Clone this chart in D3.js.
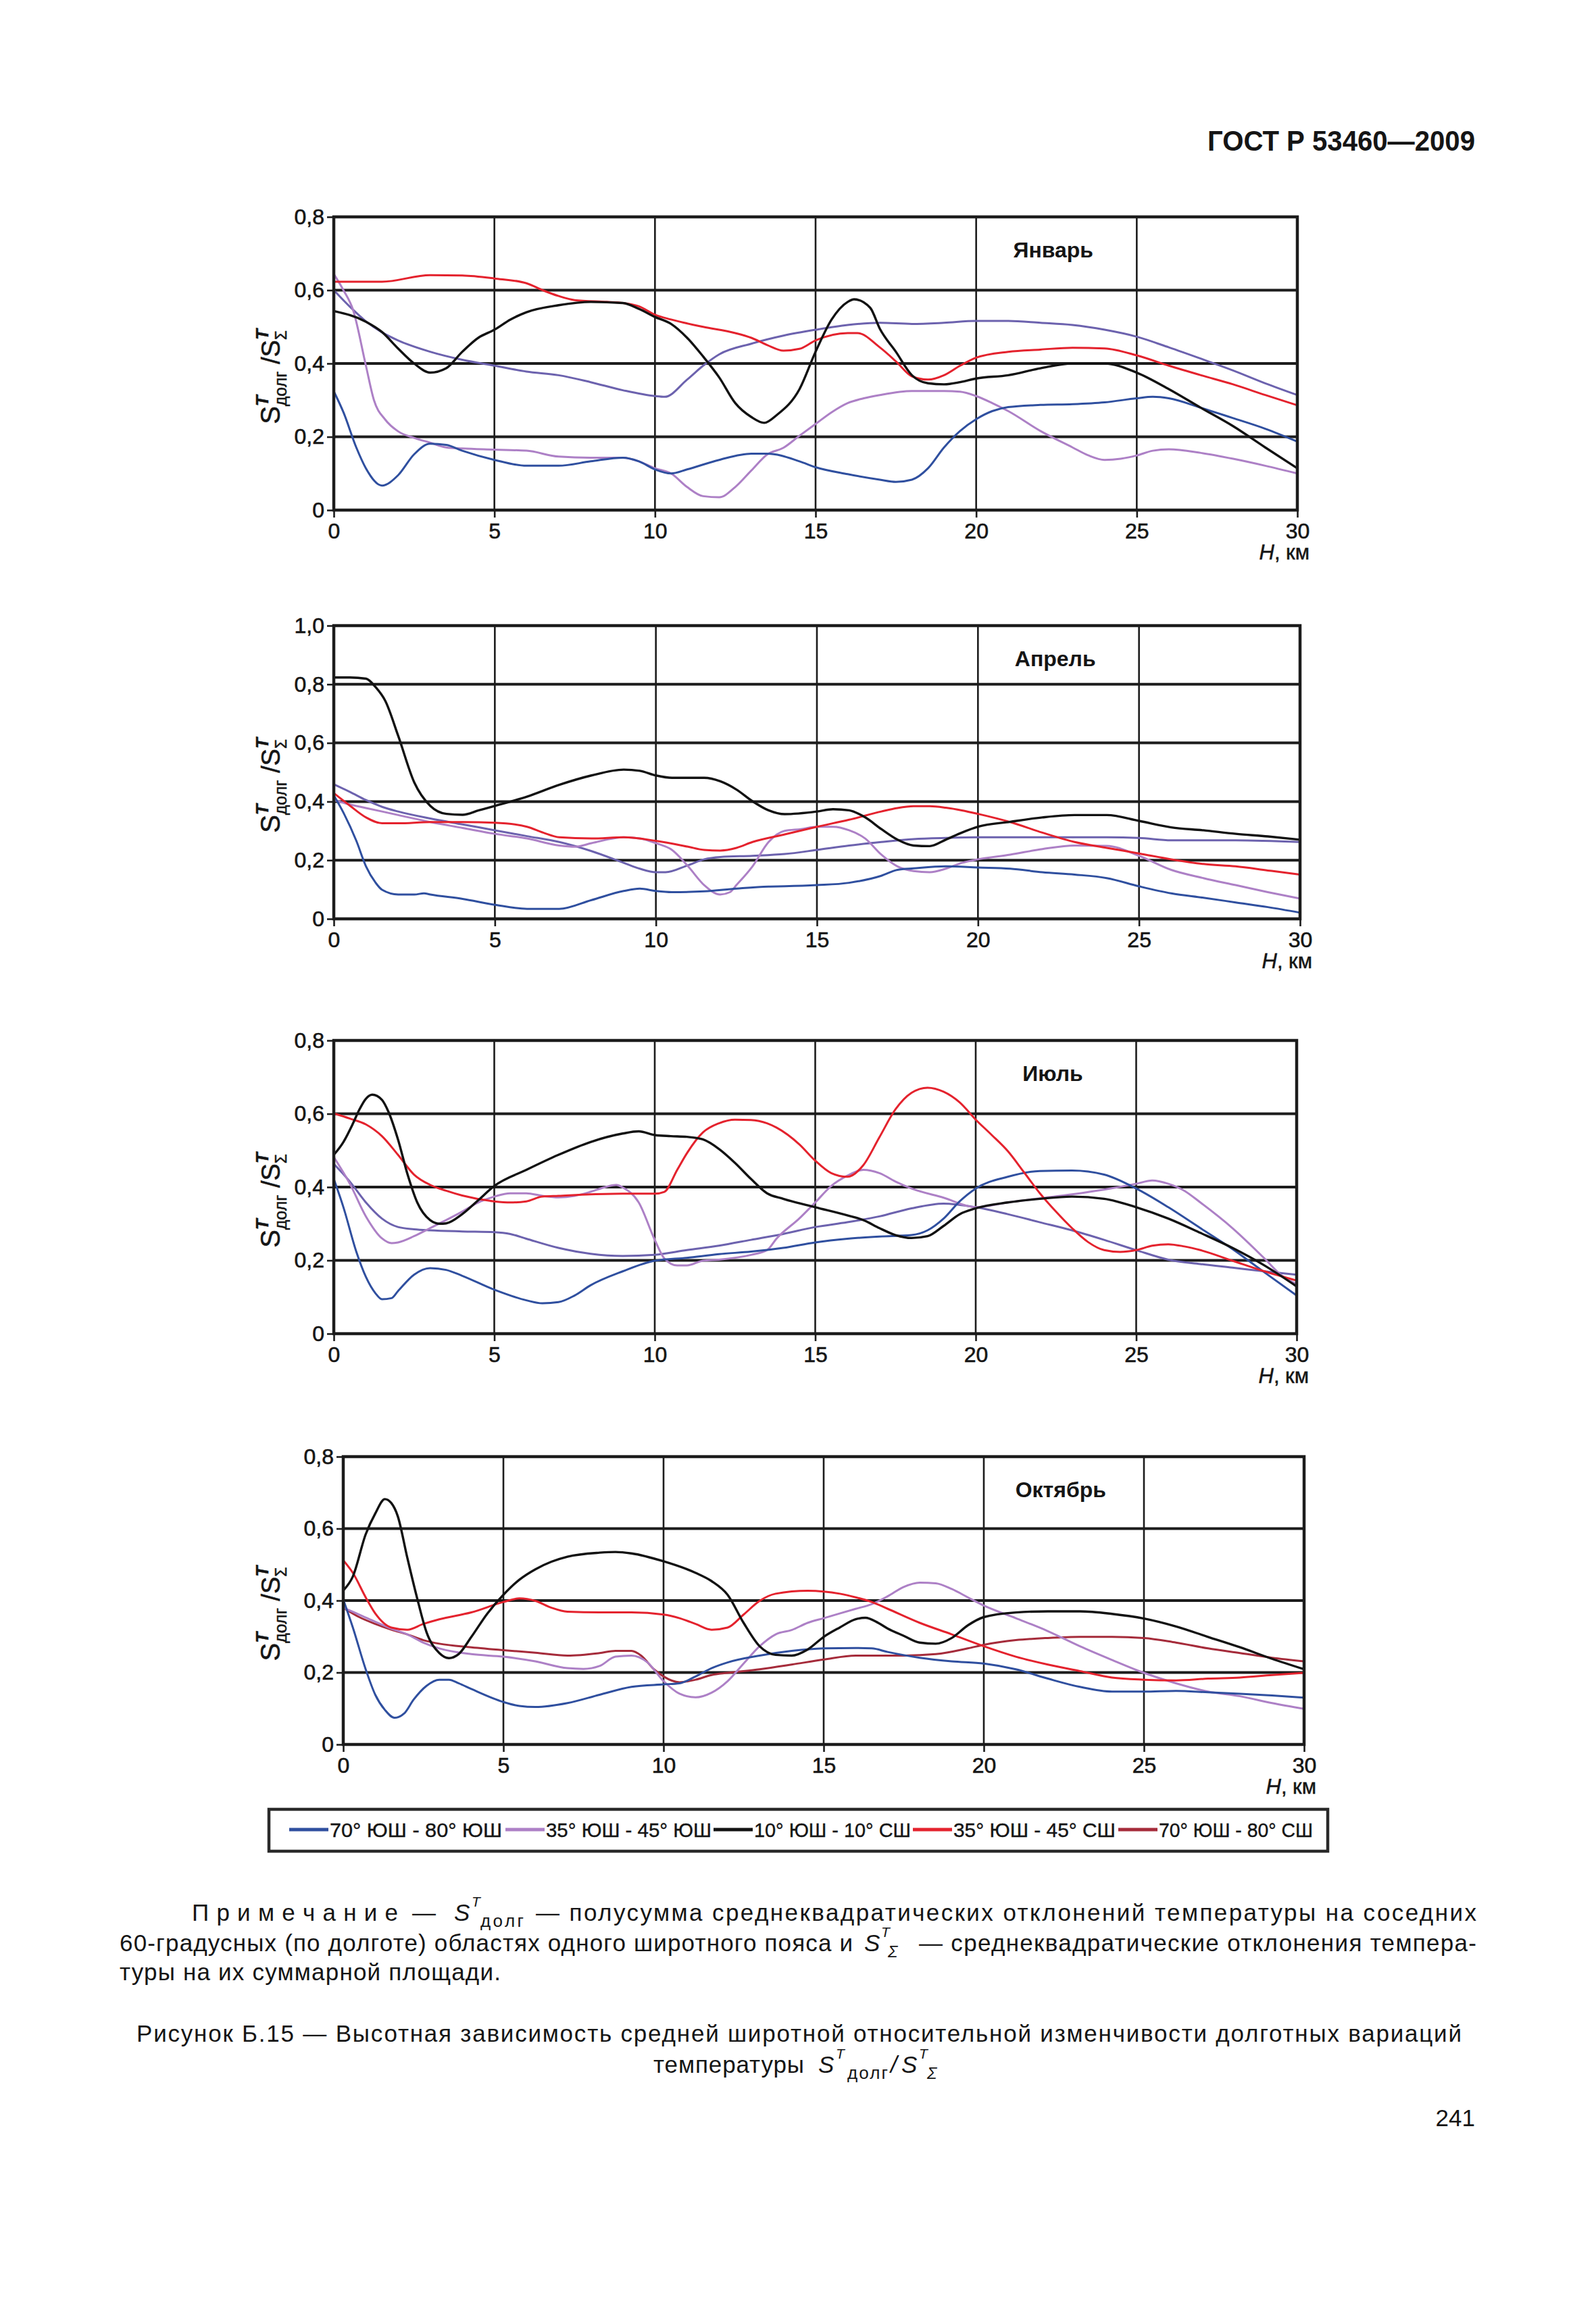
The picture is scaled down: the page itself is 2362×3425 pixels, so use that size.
<!DOCTYPE html>
<html><head><meta charset="utf-8">
<script src="https://cdn.jsdelivr.net/npm/d3@7"></script>
<style>body{margin:0;background:#fff}svg{display:block}text{font-family:"Liberation Sans",Arial,sans-serif;fill:#151515}</style>
</head><body><svg id="c" width="2362" height="3425"></svg>
<script>
// ---------------- DATA ----------------
const monthTitles = ["Январь", "Апрель", "Июль", "Октябрь"];
const seriesNames = ["70° ЮШ - 80° ЮШ", "35° ЮШ - 45° ЮШ", "10° ЮШ - 10° СШ", "35° ЮШ - 45° СШ", "70° ЮШ - 80° СШ"];
const xTicks = [0, 5, 10, 15, 20, 25, 30];
const yTicks08 = [0, 0.2, 0.4, 0.6, 0.8];
const yTicks10 = [0, 0.2, 0.4, 0.6, 0.8, 1.0];

// January  [H km, ratio]
const jan_s1 = [[0,.324],[.3,.267],[.7,.171],[1,.114],[1.5,.067],[2,.095],[2.5,.152],[3,.181],[3.5,.178],[4,.162],[5,.137],[6,.121],[7,.121],[8,.133],[9,.143],[9.5,.133],[10,.111],[10.5,.10],[11,.111],[12,.137],[13,.154],[13.5,.154],[14.5,.133],[15,.117],[16,.098],[17,.083],[17.5,.077],[18,.083],[18.5,.114],[19,.171],[19.5,.216],[20,.248],[20.5,.27],[21,.281],[22,.287],[23,.289],[24,.294],[25,.305],[25.5,.309],[26,.305],[27,.279],[28,.251],[29,.222],[30,.187]];
const jan_s2 = [[0,.644],[.3,.60],[.6,.546],[1,.394],[1.25,.30],[1.6,.247],[2,.215],[2.5,.197],[3,.184],[3.5,.171],[4,.168],[5,.165],[6,.162],[7,.146],[8,.143],[9,.143],[9.5,.133],[10,.114],[10.5,.10],[11,.063],[11.5,.038],[12,.035],[12.5,.063],[13,.108],[13.5,.152],[14,.170],[14.5,.203],[15,.235],[15.5,.267],[16,.292],[16.5,.305],[17,.314],[18,.325],[19,.325],[19.5,.323],[20,.311],[20.5,.292],[21,.27],[22,.216],[23,.171],[23.5,.149],[24,.137],[24.5,.14],[25,.149],[25.5,.162],[26,.166],[27,.156],[28,.14],[29,.121],[30,.10]];
const jan_s3 = [[0,.543],[1,.514],[1.5,.486],[2,.441],[2.5,.40],[3,.375],[3.5,.387],[4,.432],[4.5,.47],[5,.492],[5.5,.52],[6,.54],[7,.559],[8,.568],[9,.565],[9.5,.549],[10,.527],[10.5,.508],[11,.47],[11.5,.419],[12,.362],[12.5,.292],[13,.254],[13.4,.238],[13.8,.26],[14.5,.33],[15,.432],[15.5,.52],[16,.568],[16.2,.575],[16.7,.552],[17,.495],[17.5,.432],[18,.368],[18.5,.346],[19,.343],[19.5,.349],[20,.359],[21,.368],[22,.387],[23,.40],[24,.40],[25,.375],[26,.33],[27,.279],[28,.229],[29,.171],[30,.114]];
const jan_s4 = [[0,.623],[1.5,.623],[3,.641],[4,.64],[5,.632],[6,.619],[6.5,.60],[7,.584],[7.5,.573],[8.5,.568],[9,.565],[9.5,.556],[10,.533],[10.5,.52],[11.5,.50],[12.5,.483],[13,.47],[13.5,.45],[14,.435],[14.5,.44],[15,.463],[16,.483],[16.3,.483],[17,.444],[17.5,.406],[18,.365],[18.5,.356],[19,.368],[19.5,.394],[20,.416],[21,.432],[22,.438],[23,.443],[24,.441],[25,.422],[26,.394],[27,.368],[28,.343],[29,.314],[30,.286]];
const jan_s5 = [[0,.60],[.5,.555],[1,.515],[1.5,.485],[2,.463],[3,.432],[4,.41],[5,.394],[6,.378],[7,.368],[8,.349],[9,.327],[10,.311],[10.3,.309],[11,.356],[11.5,.394],[12,.425],[13,.454],[14,.476],[15,.492],[16,.505],[17,.511],[18,.508],[19,.511],[20,.516],[21,.516],[22,.511],[23,.505],[24,.492],[25,.473],[26,.444],[27,.413],[28,.381],[29,.346],[30,.314]];

// April
const apr_s1 = [[0,.421],[.3,.362],[.7,.266],[1,.179],[1.3,.123],[1.5,.099],[2,.083],[2.5,.083],[2.8,.087],[3,.083],[4,.068],[5,.048],[6,.034],[7,.034],[8,.064],[9,.095],[9.5,.103],[10,.095],[10.5,.091],[11.5,.094],[12.5,.103],[13.5,.11],[14,.111],[15,.115],[16,.123],[17,.147],[17.5,.167],[18,.172],[19,.179],[20,.175],[21,.171],[22,.159],[23,.151],[24,.139],[25,.111],[26,.087],[27,.072],[28,.056],[29,.04],[30,.021]];
const apr_s2 = [[0,.405],[.5,.39],[1,.378],[2,.354],[3,.33],[4,.31],[5,.29],[6,.274],[7,.25],[7.5,.246],[8,.258],[9,.278],[9.5,.274],[10,.258],[10.5,.235],[11,.179],[11.5,.115],[12,.083],[12.3,.091],[12.5,.115],[13,.179],[13.5,.262],[14,.30],[14.5,.306],[15,.314],[15.5,.314],[16,.302],[16.5,.274],[17,.219],[17.5,.179],[18,.163],[18.5,.159],[19,.171],[19.5,.191],[20,.203],[21,.219],[22,.238],[23,.25],[24,.249],[25,.215],[26,.167],[27,.139],[28,.115],[29,.091],[30,.069]];
const apr_s3 = [[0,.823],[.5,.823],[1,.819],[1.3,.79],[1.6,.743],[2,.624],[2.5,.465],[3,.385],[3.5,.358],[4,.355],[4.5,.37],[5,.385],[6,.417],[7,.457],[8,.489],[9,.509],[9.5,.505],[10,.489],[10.5,.481],[11.5,.481],[12,.469],[12.5,.441],[13,.401],[13.5,.37],[14,.357],[15,.366],[15.5,.374],[16,.37],[16.5,.346],[17,.306],[17.5,.27],[18,.25],[18.5,.248],[19,.27],[19.5,.294],[20,.314],[21,.331],[22,.346],[23,.354],[24,.354],[25,.334],[26,.312],[27,.302],[28,.29],[29,.281],[30,.27]];
const apr_s4 = [[0,.429],[.5,.386],[1,.346],[1.5,.326],[2,.326],[3,.33],[4,.33],[5,.328],[6,.314],[6.5,.294],[7,.278],[8,.274],[9,.278],[10,.266],[11,.246],[11.5,.235],[12,.233],[12.5,.242],[13,.262],[14,.288],[15,.314],[16,.338],[17,.366],[17.5,.378],[18,.384],[18.5,.384],[19,.379],[19.5,.37],[20,.358],[21,.33],[22,.294],[23,.262],[24,.242],[25,.223],[26,.203],[27,.187],[28,.179],[29,.165],[30,.151]];
const apr_s5 = [[0,.459],[.5,.433],[1,.405],[1.5,.382],[2,.366],[3,.342],[4,.322],[5,.302],[6,.282],[7,.262],[8,.231],[9,.191],[9.5,.171],[10,.159],[10.3,.159],[11,.183],[11.5,.203],[12,.211],[13,.215],[14,.221],[15,.235],[16,.25],[17,.262],[18,.272],[19,.276],[20,.278],[22,.278],[24,.278],[25,.276],[26,.268],[28,.268],[30,.262]];

// July
const jul_s1 = [[0,.422],[.3,.345],[.7,.224],[1,.155],[1.3,.11],[1.5,.094],[1.8,.097],[2,.116],[2.5,.161],[3,.179],[3.5,.174],[4,.158],[5,.12],[6,.091],[6.5,.083],[7,.086],[7.5,.104],[8,.132],[9,.17],[10,.199],[11,.207],[12,.217],[13,.224],[14,.234],[15,.249],[16,.259],[17,.265],[18,.269],[18.5,.282],[19,.314],[19.5,.361],[20,.396],[21,.428],[22,.444],[23,.445],[24,.434],[25,.396],[26,.345],[27,.288],[28,.231],[29,.167],[30,.104]];
const jul_s2 = [[0,.482],[.5,.409],[1,.32],[1.5,.26],[1.8,.247],[2,.249],[2.5,.266],[3,.288],[3.5,.31],[4,.333],[4.5,.358],[5,.374],[5.5,.383],[6,.383],[6.5,.376],[7,.372],[7.5,.376],[8,.387],[8.5,.401],[8.8,.406],[9,.399],[9.5,.358],[10,.256],[10.3,.205],[10.7,.186],[11,.186],[11.5,.199],[12,.202],[13,.215],[13.5,.228],[13.8,.26],[14.5,.314],[15,.358],[15.5,.403],[16,.431],[16.5,.447],[17,.438],[17.5,.415],[18,.396],[19,.371],[20,.345],[21,.358],[22,.369],[23,.38],[24,.393],[25,.409],[25.5,.418],[26,.409],[26.5,.39],[27,.358],[28,.288],[29,.205],[29.5,.161],[30,.135]];
const jul_s3 = [[0,.488],[.3,.523],[.6,.574],[.8,.612],[1,.641],[1.2,.652],[1.5,.638],[1.7,.606],[2,.53],[2.3,.434],[2.6,.358],[3,.31],[3.3,.30],[3.5,.301],[4,.326],[4.5,.364],[5,.403],[6,.447],[7,.488],[8,.523],[9,.546],[9.5,.552],[10,.542],[10.5,.539],[11,.537],[11.5,.53],[12,.504],[12.5,.466],[13,.422],[13.5,.383],[14,.368],[15,.345],[16,.323],[16.5,.31],[17,.288],[17.5,.269],[18,.261],[18.5,.266],[19,.294],[19.5,.326],[20,.342],[21,.358],[22,.368],[23,.374],[24,.368],[25,.345],[26,.314],[27,.275],[28,.234],[29,.186],[30,.129]];
const jul_s4 = [[0,.601],[.5,.587],[1,.571],[1.5,.539],[2,.488],[2.5,.434],[3,.406],[3.5,.39],[4,.377],[5,.361],[5.5,.358],[6,.361],[6.5,.374],[7,.376],[8,.38],[9,.382],[10,.382],[10.3,.387],[10.7,.447],[11,.492],[11.5,.549],[12,.574],[12.5,.584],[13,.583],[13.5,.574],[13.8,.562],[14.5,.517],[15,.472],[15.5,.438],[16,.428],[16.5,.46],[17,.536],[17.5,.612],[18,.657],[18.5,.671],[19,.66],[19.5,.631],[20,.584],[20.5,.542],[21,.498],[21.5,.441],[22,.383],[22.5,.333],[23,.288],[23.5,.25],[24,.228],[24.5,.223],[25,.228],[25.5,.24],[26,.244],[26.5,.238],[27,.228],[28,.199],[29,.17],[30,.145]];
const jul_s5 = [[0,.463],[.5,.415],[1,.358],[1.5,.314],[2,.291],[2.5,.285],[3,.282],[4,.279],[5,.277],[5.5,.272],[6,.259],[7,.234],[8,.218],[9,.212],[10,.215],[11,.228],[12,.24],[13,.256],[14,.272],[15,.291],[16,.304],[17,.32],[18,.342],[19,.355],[20,.345],[21,.326],[22,.304],[23,.282],[24,.256],[25,.228],[26,.202],[27,.19],[28,.18],[29,.17],[30,.161]];

// October
const oct_s1 = [[0,.403],[.3,.325],[.7,.209],[1,.138],[1.3,.096],[1.6,.074],[1.9,.086],[2.2,.125],[2.6,.163],[3,.18],[3.3,.18],[3.6,.17],[4,.154],[5,.118],[5.5,.107],[6,.104],[7,.115],[8,.138],[9,.16],[10,.167],[10.5,.17],[11,.189],[11.5,.212],[12,.228],[13,.247],[14,.26],[15,.267],[16,.268],[16.5,.267],[17,.257],[18,.241],[19,.231],[20,.225],[21,.209],[22,.183],[23,.16],[24,.147],[25,.147],[26,.149],[27,.145],[28,.141],[29,.136],[30,.13]];
const oct_s2 = [[0,.38],[.5,.361],[1,.341],[1.5,.322],[2,.306],[2.5,.283],[3,.267],[4,.251],[5,.244],[6,.231],[7,.212],[7.5,.21],[8,.218],[8.5,.244],[9,.247],[9.5,.228],[10,.176],[10.5,.141],[11,.131],[11.5,.144],[12,.176],[12.5,.225],[13,.273],[13.5,.306],[14,.318],[14.5,.338],[15,.351],[16,.377],[16.5,.39],[17,.412],[17.5,.438],[18,.45],[18.5,.448],[19,.432],[19.5,.409],[20,.386],[21,.351],[22,.315],[23,.273],[24,.235],[25,.199],[26,.17],[27,.147],[28,.134],[29,.115],[30,.099]];
const oct_s3 = [[0,.428],[.3,.467],[.7,.584],[1,.642],[1.3,.682],[1.5,.671],[1.7,.635],[2,.519],[2.3,.409],[2.6,.312],[3,.254],[3.3,.24],[3.6,.251],[4,.299],[4.5,.364],[5,.416],[5.5,.458],[6,.487],[6.5,.508],[7,.522],[8,.533],[8.5,.535],[9,.531],[10,.509],[11,.477],[11.5,.454],[12,.416],[12.5,.338],[13,.273],[13.5,.249],[14,.247],[14.5,.264],[15,.299],[15.5,.325],[16,.348],[16.3,.352],[16.7,.338],[17,.322],[17.5,.302],[18,.283],[18.5,.28],[19,.296],[19.5,.331],[20,.354],[21,.367],[22,.37],[23,.37],[24,.363],[25,.35],[26,.328],[27,.299],[28,.27],[29,.238],[30,.209]];
const oct_s4 = [[0,.512],[.3,.477],[.7,.409],[1,.364],[1.5,.325],[2,.319],[2.5,.335],[3,.348],[4,.367],[5,.396],[5.5,.406],[6,.399],[6.5,.38],[7,.369],[8,.367],[9,.367],[10,.361],[10.5,.351],[11,.335],[11.5,.319],[12,.325],[12.5,.361],[13,.399],[13.5,.419],[14.5,.427],[15,.425],[15.5,.419],[16,.409],[16.5,.396],[17,.377],[18,.338],[19,.306],[20,.273],[21,.244],[22,.222],[23,.204],[24,.186],[25,.18],[26,.178],[27,.183],[28,.186],[29,.193],[30,.199]];
const oct_s5 = [[0,.38],[.5,.354],[1,.335],[1.5,.319],[2,.306],[2.5,.29],[3,.28],[4,.27],[5,.262],[6,.255],[7,.247],[8,.254],[8.5,.26],[9,.26],[9.3,.247],[9.7,.209],[10,.189],[10.5,.173],[11,.18],[11.5,.193],[12,.199],[13,.209],[14,.222],[15,.236],[16,.247],[17.5,.247],[18.5,.251],[19.5,.267],[20,.277],[21,.29],[22,.296],[23,.299],[24,.299],[25,.296],[26,.283],[27,.267],[28,.254],[29,.241],[30,.231]];

const monthSeries = [
  [jan_s1, jan_s2, jan_s3, jan_s4, jan_s5],
  [apr_s1, apr_s2, apr_s3, apr_s4, apr_s5],
  [jul_s1, jul_s2, jul_s3, jul_s4, jul_s5],
  [oct_s1, oct_s2, oct_s3, oct_s4, oct_s5]
];
const monthYMax = [0.8, 1.0, 0.8, 0.8];
const monthYTicks = [yTicks08, yTicks10, yTicks08, yTicks08];

// ---------------- STYLE / LAYOUT ----------------
const baseColors = ["#2f4f9f", "#ad80c6", "#121212", "#e4222d", "#a52b3a"];
const slateColor = "#6c62ae";   // series 5 is drawn slate-blue in the first three panels
const panelBoxes = [
  {left:494, right:1920, top:321,  bottom:755},
  {left:494, right:1924, top:926,  bottom:1360},
  {left:494, right:1919, top:1540, bottom:1974},
  {left:508, right:1930, top:2156, bottom:2582}
];
const gridColor = "#1c1c1c";
const drawOrder = [4, 1, 0, 3, 2];

const svg = d3.select("#c");
svg.append("rect").attr("width", 2362).attr("height", 3425).attr("fill", "#fff");

const fmt = v => v === 0 ? "0" : d3.format(".1f")(v).replace(".", ",");

monthSeries.forEach((series, i) => {
  const b = panelBoxes[i];
  const x = d3.scaleLinear().domain([0, 30]).range([b.left, b.right]);
  const y = d3.scaleLinear().domain([0, monthYMax[i]]).range([b.bottom, b.top]);
  const g = svg.append("g");

  g.selectAll("line.vg").data(xTicks.slice(1, -1)).join("line").attr("class", "vg")
    .attr("x1", d => x(d)).attr("x2", d => x(d)).attr("y1", b.top).attr("y2", b.bottom)
    .attr("stroke", gridColor).attr("stroke-width", 2.6);
  g.selectAll("line.hg").data(monthYTicks[i].slice(1, -1)).join("line").attr("class", "hg")
    .attr("x1", b.left).attr("x2", b.right).attr("y1", d => y(d)).attr("y2", d => y(d))
    .attr("stroke", gridColor).attr("stroke-width", 4);

  g.append("text").attr("x", x(22.4)).attr("y", b.top + 60).attr("text-anchor", "middle")
    .attr("font-size", 32).attr("font-weight", "bold").text(monthTitles[i]);

  const line = d3.line().x(d => x(d[0])).y(d => y(d[1])).curve(d3.curveMonotoneX);
  drawOrder.forEach(k => {
    const col = (k === 4 && i < 3) ? slateColor : baseColors[k];
    g.append("path").datum(series[k]).attr("d", line).attr("fill", "none")
      .attr("stroke", col).attr("stroke-width", k === 2 ? 3.4 : 3)
      .attr("stroke-linejoin", "round").attr("stroke-linecap", "round");
  });

  g.append("rect").attr("x", b.left).attr("y", b.top).attr("width", b.right - b.left).attr("height", b.bottom - b.top)
    .attr("fill", "none").attr("stroke", gridColor).attr("stroke-width", 4.5);

  const ax = g.append("g").attr("transform", `translate(0,${b.bottom})`)
    .call(d3.axisBottom(x).tickValues(xTicks).tickSize(11).tickPadding(8).tickFormat(d3.format("d")));
  const ay = g.append("g").attr("transform", `translate(${b.left},0)`)
    .call(d3.axisLeft(y).tickValues(monthYTicks[i]).tickSize(10).tickPadding(4).tickFormat(fmt));
  [ax, ay].forEach(a => {
    a.attr("font-family", null).attr("font-size", null);
    a.select(".domain").remove();
    a.selectAll(".tick line").attr("stroke", gridColor).attr("stroke-width", 2.6);
    a.selectAll(".tick text").attr("font-size", 32).attr("fill", "#151515")
      .attr("stroke", "#151515").attr("stroke-width", 0.6);
  });

  const xt = g.append("text").attr("x", b.right + 18).attr("y", b.bottom + 73).attr("text-anchor", "end")
    .attr("font-size", 31).attr("stroke", "#151515").attr("stroke-width", 0.5);
  xt.append("tspan").attr("font-style", "italic").text("H");
  xt.append("tspan").text(", км");

  const cy = b.top + 0.545 * (b.bottom - b.top);
  const yt = svg.append("text").attr("transform", `translate(414,${cy}) rotate(-90)`).attr("text-anchor", "middle")
    .attr("stroke", "#151515").attr("stroke-width", 0.5);
  yt.append("tspan").attr("font-size", 40).text("S");
  yt.append("tspan").attr("font-size", 26).attr("font-style", "italic").attr("font-weight", "bold").attr("dy", -17).text("T");
  yt.append("tspan").attr("font-size", 25).attr("dx", -16).attr("dy", 27).text("долг");
  yt.append("tspan").attr("font-size", 38).attr("dy", -10).text(" /S");
  yt.append("tspan").attr("font-size", 26).attr("font-style", "italic").attr("font-weight", "bold").attr("dy", -17).text("T");
  yt.append("tspan").attr("font-size", 23).attr("dx", -16).attr("dy", 27).text("Σ");
});

// ---------------- LEGEND ----------------
const legendBox = {x:398, y:2678, w:1567, h:62};
svg.append("rect").attr("x", legendBox.x).attr("y", legendBox.y).attr("width", legendBox.w).attr("height", legendBox.h)
  .attr("fill", "#fff").attr("stroke", "#2a2a2a").attr("stroke-width", 4.5);
const legendStart = [428, 748, 1056, 1351, 1655];
const legendEnd = [743, 1053, 1348, 1651, 1943];
seriesNames.forEach((name, k) => {
  const x0 = legendStart[k];
  svg.append("line").attr("x1", x0).attr("x2", x0 + 58).attr("y1", 2708).attr("y2", 2708)
    .attr("stroke", baseColors[k]).attr("stroke-width", 5);
  svg.append("text").attr("x", x0 + 60).attr("y", 2719).attr("font-size", 29)
    .attr("stroke", "#151515").attr("stroke-width", 0.4)
    .attr("textLength", legendEnd[k] - x0 - 60).attr("lengthAdjust", "spacingAndGlyphs").text(name);
});

// ---------------- PAGE TEXTS ----------------
function put(x, y, str, size, opts = {}) {
  const t = svg.append("text").attr("x", x).attr("y", y).attr("font-size", size).text(str);
  if (opts.len) t.attr("textLength", opts.len).attr("lengthAdjust", opts.adj || "spacing");
  if (opts.italic) t.attr("font-style", "italic");
  if (opts.bold) t.attr("font-weight", "bold");
  if (opts.anchor) t.attr("text-anchor", opts.anchor);
  return t;
}
put(2183, 223, "ГОСТ Р 53460—2009", 43, {bold: true, anchor: "end", len: 396, adj: "spacingAndGlyphs"});

put(284, 2843, "П р и м е ч а н и е", 35, {len: 305});
put(610, 2843, "—", 35);
put(672, 2843, "S", 35, {italic: true});
put(698, 2822, "T", 21, {italic: true});
put(711, 2852, "долг", 26, {len: 64});
put(793, 2843, "— полусумма среднеквадратических  отклонений температуры на соседних", 35, {len: 1392});
put(177, 2888, "60-градусных (по долготе) областях одного широтного пояса и", 35, {len: 1085});
put(1279, 2888, "S", 35, {italic: true});
put(1304, 2867, "T", 21, {italic: true});
put(1314, 2897, "Σ", 24, {italic: true});
put(1360, 2888, "— среднеквадратические отклонения темпера-", 35, {len: 825});
put(177, 2931, "туры на их суммарной площади.", 35, {len: 564});

put(202, 3022, "Рисунок  Б.15 — Высотная зависимость средней широтной относительной изменчивости долготных вариаций", 35, {len: 1961});
put(967, 3068, "температуры", 35, {len: 223});
put(1211, 3068, "S", 35, {italic: true});
put(1237, 3047, "T", 21, {italic: true});
put(1254, 3077, "долг", 26, {len: 60});
put(1318, 3068, "/", 35, {italic: true});
put(1334, 3068, "S", 35, {italic: true});
put(1360, 3047, "T", 21, {italic: true});
put(1372, 3077, "Σ", 24, {italic: true});

put(2183, 3147, "241", 35, {anchor: "end"});
</script>
</body></html>
